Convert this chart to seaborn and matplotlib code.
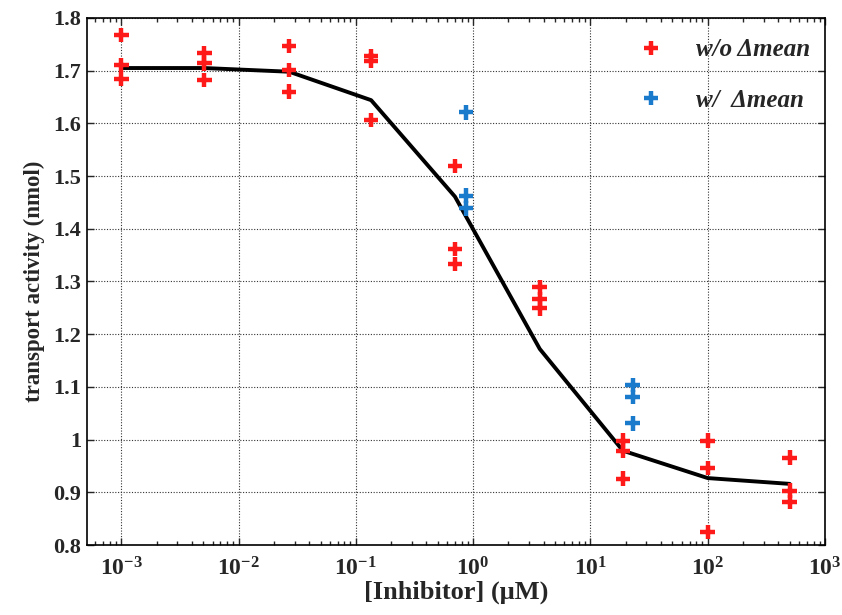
import numpy as np
import pandas as pd
import matplotlib
matplotlib.use("Agg")
import matplotlib.pyplot as plt
import seaborn as sns
from matplotlib.ticker import FixedLocator, LogLocator, FuncFormatter, NullFormatter

# ---- data ----
conc = [0.001, 0.0051, 0.027, 0.135, 0.70, 3.7, 18.9, 100, 500]
wo_rep1 = [1.768, 1.733, 1.747, 1.728, 1.519, 1.289, 0.998, 0.998, 0.966]
wo_rep2 = [1.711, 1.714, 1.701, 1.719, 1.362, 1.266, 0.979, 0.946, 0.903]
wo_rep3 = [1.684, 1.682, 1.660, 1.606, 1.333, 1.249, 0.926, 0.825, 0.882]

w_conc = [0.867, 22.9]
w_rep1 = [1.621, 1.104]
w_rep2 = [1.463, 1.081]
w_rep3 = [1.439, 1.031]

fit_y = [1.705, 1.705, 1.698, 1.644, 1.461, 1.172, 0.979, 0.927, 0.916]

labels = ["w/o \u0394mean", "w/  \u0394mean"]
x_ticks = [1e-3, 1e-2, 1e-1, 1e0, 1e1, 1e2, 1e3]
y_ticks = [0.8, 0.9, 1.0, 1.1, 1.2, 1.3, 1.4, 1.5, 1.6, 1.7, 1.8]
y_ticklabels = ["0.8", "0.9", "1", "1.1", "1.2", "1.3", "1.4", "1.5", "1.6", "1.7", "1.8"]

wo = pd.DataFrame({"x": conc * 3, "y": wo_rep1 + wo_rep2 + wo_rep3, "grp": labels[0]})
w = pd.DataFrame({"x": w_conc * 3, "y": w_rep1 + w_rep2 + w_rep3, "grp": labels[1]})
pts = pd.concat([wo, w], ignore_index=True)
fit = pd.DataFrame({"x": conc, "y": fit_y})

# ---- style ----
sns.set_style("ticks")
plt.rcParams["font.family"] = ["Liberation Serif", "DejaVu Serif"]
plt.rcParams["font.weight"] = "bold"
plt.rcParams["mathtext.fontset"] = "custom"
plt.rcParams["mathtext.rm"] = "Liberation Serif:bold"
plt.rcParams["mathtext.it"] = "Liberation Serif:bold:italic"
plt.rcParams["mathtext.bf"] = "Liberation Serif:bold"

fig = plt.figure(figsize=(8.42, 6.15), dpi=100)
ax = fig.add_axes([0.1033, 0.1138, 0.8765, 0.857])

sns.lineplot(data=fit, x="x", y="y", color="black", lw=2.8, ax=ax, legend=False, zorder=3)
sns.scatterplot(data=pts, x="x", y="y", hue="grp", palette=["#ff1a1a", "#1a7acc"],
                marker="+", s=110, linewidth=3.2, ax=ax, zorder=4)

ax.set_xscale("log")
ax.set_xlim(5.1e-4, 1000)
ax.set_ylim(0.8, 1.8)
ax.set_yticks(y_ticks)
ax.set_yticklabels(y_ticklabels)
ax.xaxis.set_major_locator(FixedLocator(x_ticks))
ax.xaxis.set_minor_locator(LogLocator(base=10, subs=np.arange(2, 10), numticks=50))
ax.xaxis.set_minor_formatter(NullFormatter())
ax.xaxis.set_major_formatter(FuncFormatter(lambda v, p: r"$\mathbf{10^{%d}}$" % round(np.log10(v))))

ax.grid(True, which="major", color="#333333", linestyle=(0, (1, 1.5)), linewidth=0.8)
ax.tick_params(which="both", direction="in", top=True, right=True, width=1.0)
ax.tick_params(which="major", length=5)
ax.tick_params(axis="y", which="major", labelsize=16, pad=4)
ax.tick_params(axis="x", which="major", labelsize=17, pad=9)
ax.tick_params(which="minor", length=3)
for sp in ax.spines.values():
    sp.set_linewidth(1.2)
    sp.set_color("black")

ax.set_xlabel("[Inhibitor] (\u03bcM)", fontsize=19, fontweight="bold", labelpad=0)
ax.set_ylabel("transport activity (nmol)", fontsize=16.5, fontweight="bold", labelpad=6)

leg = ax.legend(loc="upper right", frameon=False, handlelength=1.0, handletextpad=1.3,
                labelspacing=1.1, borderaxespad=0.0, markerscale=1.0,
                bbox_to_anchor=(0.993, 0.98),
                prop={"family": "Liberation Serif", "style": "italic", "weight": "bold", "size": 18})

fig.savefig("out.png", dpi=100)
